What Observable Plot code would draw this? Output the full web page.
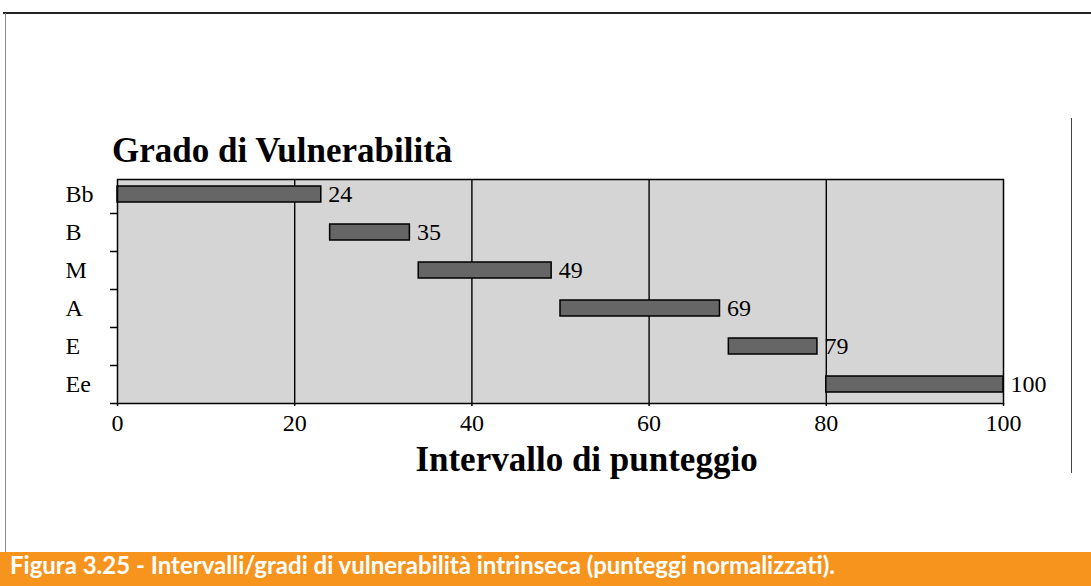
<!DOCTYPE html>
<html>
<head>
<meta charset="utf-8">
<script src="https://cdn.jsdelivr.net/npm/d3@7"></script>
<script src="https://cdn.jsdelivr.net/npm/@observablehq/plot@0.6"></script>
<style>
  html, body { margin: 0; padding: 0; background: #fff; }
  #wrap { position: relative; width: 1091px; height: 586px; overflow: hidden; background: #fff; }
  #chart { position: absolute; left: 0; top: 0; }
  #title { position: absolute; left: 112px; top: 133px; font: bold 35px/35px "Liberation Serif", serif; color: #000; white-space: nowrap; }
  #caption { position: absolute; left: 0; top: 552px; width: 1091px; height: 34px; background: #F7941D; color: #fff;
             font: bold 24px/26px "Lato", sans-serif; padding-left: 10px; box-sizing: border-box; white-space: nowrap; }
  .ln { position: absolute; }
</style>
</head>
<body>
<div id="wrap">
  <div class="ln" style="left:3px;top:12px;width:1088px;height:2px;background:#222;"></div>
  <div class="ln" style="left:5px;top:13px;width:1px;height:539px;background:#888;"></div>
  <div class="ln" style="left:1071px;top:118px;width:1px;height:355px;background:#444;"></div>
  <div id="chart"></div>
  <div id="title">Grado di Vulnerabilità</div>
  <div id="caption">Figura 3.25 - Intervalli/gradi di vulnerabilità intrinseca (punteggi normalizzati).</div>
</div>
<script>
const categories = ["Bb", "B", "M", "A", "E", "Ee"];
const starts = [0, 24, 34, 50, 69, 80];
const ends = [23, 33, 49, 68, 79, 100];
const valueLabels = ["24", "35", "49", "69", "79", "100"];
const xTicks = [0, 20, 40, 60, 80, 100];
const gridValues = [20, 40, 60, 80];
const xLabel = "Intervallo di punteggio";

const data = categories.map((c, i) => ({cat: c, x1: starts[i], x2: ends[i], label: valueLabels[i]}));

const chart = Plot.plot({
  width: 1091,
  height: 552,
  marginTop: 179,
  marginBottom: 149,
  marginLeft: 117,
  marginRight: 88,
  style: {fontFamily: "'Liberation Serif', serif", fontSize: "24px", color: "#000", background: "transparent"},
  x: {domain: [0, 100]},
  y: {domain: categories, range: [175, 403], padding: 0},
  marks: [
    Plot.frame({fill: "#d5d5d5"}),
    Plot.ruleX(gridValues, {stroke: "#000", strokeWidth: 1.4}),
    Plot.barX(data, {x1: "x1", x2: "x2", y: "cat", fill: "#666", stroke: "#000", strokeWidth: 1.5, insetTop: 11, insetBottom: 11}),
    Plot.text(data, {x: "x2", y: "cat", text: "label", textAnchor: "start", dx: 7, fontSize: 24, fill: "#000"}),
    Plot.frame({stroke: "#000", strokeWidth: 1.5}),
    Plot.axisX({ticks: xTicks, tickSize: 3, tickPadding: 7, fontSize: 24, label: null, strokeWidth: 1.5}),
    Plot.axisY({tickSize: 7, tickFormat: () => "", dy: 19, label: null, strokeWidth: 1.5}),
    Plot.text(categories, {y: d => d, frameAnchor: "left", dx: -52, textAnchor: "start", fontSize: 24, fill: "#000"}),
    Plot.text([xLabel], {frameAnchor: "bottom", lineAnchor: "middle", dx: 26, dy: 56, fontSize: 35, fontWeight: "bold", fill: "#000"})
  ]
});
document.getElementById("chart").appendChild(chart);
</script>
</body>
</html>
